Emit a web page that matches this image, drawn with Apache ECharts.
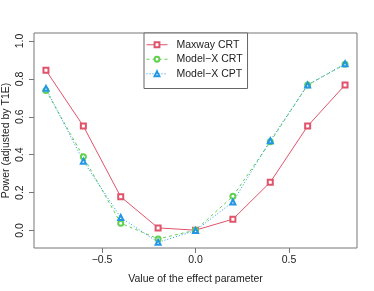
<!DOCTYPE html>
<html><head><meta charset="utf-8">
<script src="https://cdn.jsdelivr.net/npm/echarts@6/dist/echarts.min.js"></script>
<style>html,body{margin:0;padding:0;background:#fff}#c{width:374px;height:291px}</style>
</head><body><div id="c"></div>
<script>
var xValues = [-0.8, -0.6, -0.4, -0.2, 0.0, 0.2, 0.4, 0.6, 0.8];
var maxwayCRT = [0.845, 0.551, 0.178, 0.014, 0.002, 0.060, 0.255, 0.551, 0.768];
var modelXCRT = [0.739, 0.389, 0.039, -0.044, 0.002, 0.181, 0.468, 0.768, 0.877];
var modelXCPT = [0.750, 0.366, 0.069, -0.062, 0.000, 0.151, 0.474, 0.768, 0.880];
var xTicks = [-0.5, 0.0, 0.5];
var yTicks = [0.0, 0.2, 0.4, 0.6, 0.8, 1.0];

function pairs(v){ return xValues.map(function(x,i){ return [x, v[i]]; }); }
var font = 'Liberation Sans, Arial, sans-serif';
var txt = '#222';
var fs = 10.5;
var chart = echarts.init(document.getElementById('c'), null, {renderer:'canvas'});
function ser(name, data, color, type, sym){
  return {name:name, type:'line', data:pairs(data), symbol:sym, symbolSize:5,
    lineStyle:{color:color, width:1, type:type}, itemStyle:{color:color, borderColor:color, borderWidth:1},
    emphasis:{disabled:true}, animation:false};
}
chart.setOption({
  animation:false,
  grid:{left:34, right:17, top:33, bottom:43, show:true, borderColor:'#777', borderWidth:1,
    backgroundColor:'transparent', containLabel:false, outerBoundsMode:'none'},
  xAxis:{type:'value', min:-0.864, max:0.864,
    axisLine:{show:false, onZero:false}, splitLine:{show:false},
    axisTick:{show:true, length:5, lineStyle:{color:'#777'}, customValues:xTicks},
    axisLabel:{show:true, margin:7, fontSize:fs, color:txt, fontFamily:font, customValues:xTicks,
      formatter:function(v){ return (v<0?'\u2212':'') + Math.abs(v).toFixed(1); }},
    name:'Value of the effect parameter', nameLocation:'middle', nameGap:26, nameMoveOverlap:false,
    nameTextStyle:{fontSize:fs, color:txt, fontFamily:font}},
  yAxis:{type:'value', min:-0.092, max:1.042,
    axisLine:{show:false, onZero:false}, splitLine:{show:false},
    axisTick:{show:true, length:5, lineStyle:{color:'#777'}, customValues:yTicks},
    axisLabel:{show:true, rotate:90, margin:8, fontSize:fs, color:txt, fontFamily:font, customValues:yTicks,
      formatter:function(v){ return v.toFixed(1); }},
    name:'Power (adjusted by T1E)', nameLocation:'middle', nameGap:22, nameMoveOverlap:false,
    nameTextStyle:{fontSize:fs, color:txt, fontFamily:font}},
  legend:{orient:'vertical', left:144, top:33, itemWidth:21, itemHeight:6, itemGap:1,
    padding:[5,5,8,2], borderColor:'#666', borderWidth:1, backgroundColor:'#fff',
    lineStyle:{width:1}, itemStyle:{borderWidth:1},
    textStyle:{fontSize:fs, lineHeight:13.5, color:txt, fontFamily:font, padding:[0,0,0,4]},
    data:['Maxway CRT','Model\u2212X CRT','Model\u2212X CPT']},
  series:[
    ser('Maxway CRT', maxwayCRT, '#DF536B', 'solid', 'emptyRect'),
    ser('Model\u2212X CRT', modelXCRT, '#61D04F', [3,3], 'emptyCircle'),
    ser('Model\u2212X CPT', modelXCPT, '#2297E6', [1,2], 'emptyTriangle')
  ]
});
</script></body></html>
